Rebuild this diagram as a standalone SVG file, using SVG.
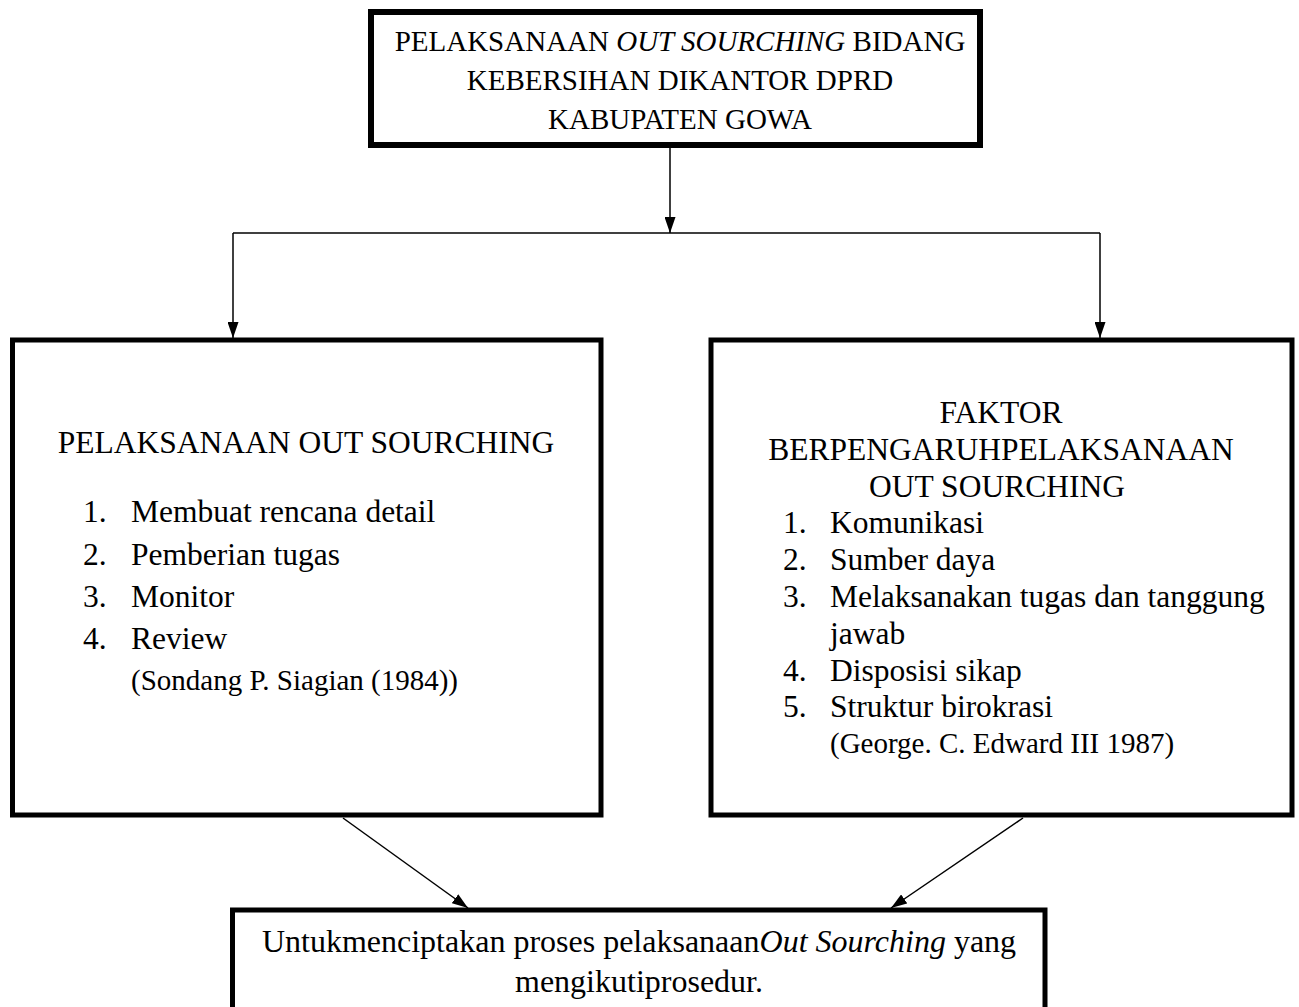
<svg xmlns="http://www.w3.org/2000/svg" width="1299" height="1007" viewBox="0 0 1299 1007">
<style>
.box{fill:#fff;stroke:#000;stroke-width:5}
.t{font-family:"Liberation Serif","Times New Roman",serif;fill:#000}
.c{text-anchor:middle}
.conn{stroke:#000;stroke-width:1.5;fill:none}
</style>
<defs>
<marker id="ah" markerUnits="userSpaceOnUse" markerWidth="16" markerHeight="11" refX="16" refY="5.5" orient="auto" viewBox="0 0 16 11">
<path d="M0,0 L16,5.5 L0,11 Z" fill="#000"/>
</marker>
</defs>
<g id="connectors">
<line class="conn" x1="670" y1="147" x2="670" y2="233" marker-end="url(#ah)"/>
<polyline class="conn" points="233,233 1100,233"/>
<line class="conn" x1="233" y1="233" x2="233" y2="338" marker-end="url(#ah)"/>
<line class="conn" x1="1100" y1="233" x2="1100" y2="338" marker-end="url(#ah)"/>
<line class="conn" x1="343" y1="818" x2="468" y2="908" marker-end="url(#ah)"/>
<line class="conn" x1="1023" y1="818" x2="891" y2="908" marker-end="url(#ah)"/>
</g>
<g id="top">
<rect class="box" x="371" y="12" width="609" height="133" style="stroke-width:6"/>
<text class="t c" x="680" y="51" font-size="29">PELAKSANAAN <tspan font-style="italic">OUT SOURCHING</tspan> BIDANG</text>
<text class="t c" x="680" y="90" font-size="29">KEBERSIHAN DIKANTOR DPRD</text>
<text class="t c" x="680" y="129" font-size="29">KABUPATEN GOWA</text>
</g>
<g id="left">
<rect class="box" x="12.5" y="340" width="588.5" height="475"/>
<text class="t c" x="306" y="453" font-size="31.5">PELAKSANAAN OUT SOURCHING</text>
<g class="t" font-size="31.5">
<text x="83" y="522">1.</text><text x="131" y="522">Membuat rencana detail</text>
<text x="83" y="565">2.</text><text x="131" y="565">Pemberian tugas</text>
<text x="83" y="607">3.</text><text x="131" y="607">Monitor</text>
<text x="83" y="649">4.</text><text x="131" y="649">Review</text>
</g>
<text class="t" x="131" y="690" font-size="29">(Sondang P. Siagian (1984))</text>
</g>
<g id="right">
<rect class="box" x="711" y="340" width="581" height="475"/>
<g class="t c" font-size="31.5">
<text x="1001" y="423">FAKTOR</text>
<text x="1001" y="460">BERPENGARUHPELAKSANAAN</text>
<text x="997" y="497">OUT SOURCHING</text>
</g>
<g class="t" font-size="31.5">
<text x="783" y="533">1.</text><text x="830" y="533">Komunikasi</text>
<text x="783" y="570">2.</text><text x="830" y="570">Sumber daya</text>
<text x="783" y="607">3.</text><text x="830" y="607">Melaksanakan tugas dan tanggung</text>
<text x="830" y="644">jawab</text>
<text x="783" y="681">4.</text><text x="830" y="681">Disposisi sikap</text>
<text x="783" y="717">5.</text><text x="830" y="717">Struktur birokrasi</text>
</g>
<text class="t" x="830" y="753" font-size="29">(George. C. Edward III 1987)</text>
</g>
<g id="bottom">
<rect class="box" x="232.5" y="910" width="812.5" height="110"/>
<text class="t c" x="639" y="952" font-size="32">Untukmenciptakan proses pelaksanaan<tspan font-style="italic">Out Sourching</tspan> yang</text>
<text class="t c" x="639" y="992" font-size="32">mengikutiprosedur.</text>
</g>
</svg>
